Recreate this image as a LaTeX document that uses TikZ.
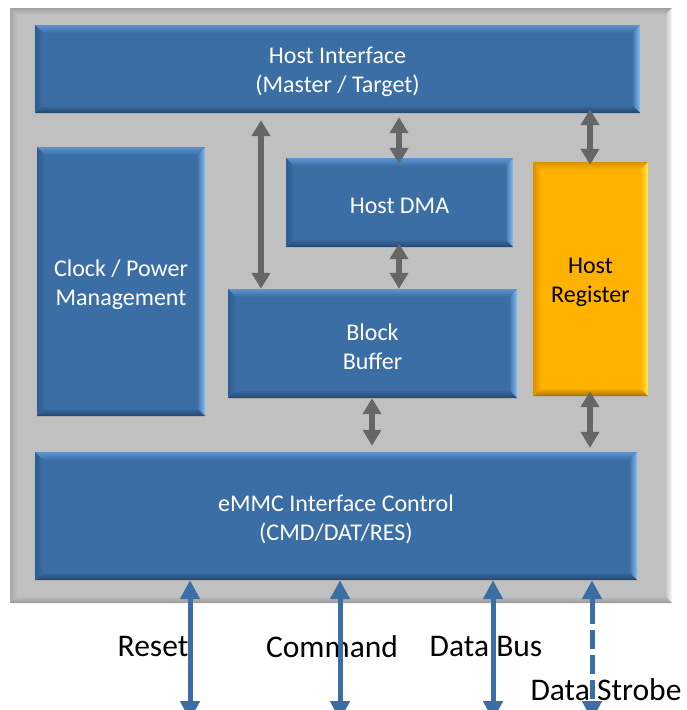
\documentclass[tikz,border=0pt]{standalone}
\usepackage{fontspec}
\setmainfont{Carlito}
\usetikzlibrary{arrows.meta}

% face colours: M = face, T/R/B/L = top/right/bottom/left bevel
\definecolor{blueM}{HTML}{3A6EA5}
\definecolor{blueT}{HTML}{5C93D0}
\definecolor{blueR}{HTML}{86BDF2}
\definecolor{blueB}{HTML}{24476F}
\definecolor{blueL}{HTML}{2E5C8E}
\definecolor{orngM}{HTML}{FFB300}
\definecolor{orngT}{HTML}{D99200}
\definecolor{orngR}{HTML}{FFE84A}
\definecolor{orngB}{HTML}{A87000}
\definecolor{orngL}{HTML}{D89000}
\definecolor{grayM}{HTML}{C0C0C0}
\definecolor{grayT}{HTML}{A2A2A2}
\definecolor{grayR}{HTML}{FAFAFA}
\definecolor{grayB}{HTML}{999999}
\definecolor{grayL}{HTML}{A6A6A6}
\definecolor{linkgray}{HTML}{666666}

\newcommand\boxfont{\fontsize{24}{29}\selectfont}
\newcommand\labfont{\fontsize{31.5}{36}\selectfont}
% tall strut on a first line: sets the text a little below centre
\newcommand\lowstrut{\rule{0pt}{23pt}}

\tikzset{
  bevelled/.style 2 args={
    fill=#1M,
    path picture={
      \path (path picture bounding box.north west) coordinate (pNW)
            (path picture bounding box.north east) coordinate (pNE)
            (path picture bounding box.south west) coordinate (pSW)
            (path picture bounding box.south east) coordinate (pSE);
      \shade[top color=#1T, bottom color=#1M]
        (pNW) -- (pNE) -- ([xshift=-#2,yshift=-#2]pNE) -- ([xshift=#2,yshift=-#2]pNW) -- cycle;
      \shade[left color=#1M, right color=#1R]
        (pNE) -- (pSE) -- ([xshift=-#2,yshift=#2]pSE) -- ([xshift=-#2,yshift=-#2]pNE) -- cycle;
      \shade[top color=#1M, bottom color=#1B]
        (pSE) -- (pSW) -- ([xshift=#2,yshift=#2]pSW) -- ([xshift=-#2,yshift=#2]pSE) -- cycle;
      \shade[left color=#1L, right color=#1M]
        (pSW) -- (pNW) -- ([xshift=#2,yshift=-#2]pNW) -- ([xshift=#2,yshift=#2]pSW) -- cycle;
    }},
  boxtext/.style={align=center, inner sep=0pt, font=\boxfont},
  blk/.style={bevelled={blue}{8pt}, text=white, boxtext},
  regblk/.style={bevelled={orng}{8pt}, text=black, boxtext},
  panelbox/.style={bevelled={gray}{7pt}, inner sep=0pt},
  garrow/.style={draw=linkgray, line width=6pt,
    {Triangle[width=18pt,length=16pt]}-{Triangle[width=18pt,length=16pt]}},
  barrow/.style={draw=blueM, line width=5pt,
    {Triangle[width=19pt,length=19pt]}-{Triangle[width=19pt,length=19pt]}},
  lab/.style={text=black, font=\labfont, inner sep=0pt},
}

\begin{document}
\begin{tikzpicture}[x=1pt, y=-1pt]
  \fill[white] (0,0) rectangle (686,710);
  \useasboundingbox (0,0) rectangle (686,710);

  % housing
  \node[panelbox, minimum width=662pt, minimum height=595pt] (panel) at (341,305.5) {};

  % functional blocks
  \node[blk, minimum width=605pt, minimum height=88pt] (hi) at (337.5,69)
    {\lowstrut Host Interface\\(Master / Target)};
  \node[blk, minimum width=168pt, minimum height=269pt] (clk) at (121,281.5)
    {\lowstrut Clock / Power\\Management};
  \node[blk, minimum width=227pt, minimum height=89pt] (dma) at (399.5,202.5)
    {\lowstrut Host DMA};
  \node[blk, minimum width=289pt, minimum height=109pt] (bb) at (372.5,343.5)
    {\lowstrut Block\\Buffer};
  \node[regblk, minimum width=115pt, minimum height=234pt] (reg) at (590.5,279)
    {\lowstrut Host\\Register};
  \node[blk, minimum width=602pt, minimum height=128pt] (emmc) at (336,516)
    {\lowstrut eMMC Interface Control\\(CMD/DAT/RES)};

  % internal links
  \coordinate (c1) at (261,0);
  \coordinate (c2) at (399,0);
  \coordinate (c3) at (590,0);
  \coordinate (c4) at (372,0);
  \draw[garrow, shorten <=7pt] (hi.south -| c1) -- (bb.north -| c1);
  \draw[garrow, shorten <=4pt, shorten >=-6pt] (hi.south -| c2) -- (dma.north -| c2);
  \draw[garrow, shorten <=-4pt] (dma.south -| c2) -- (bb.north -| c2);
  \draw[garrow, shorten <=-4pt, shorten >=-3pt] (hi.south -| c3) -- (reg.north -| c3);
  \draw[garrow, shorten >=6pt] (bb.south -| c4) -- (emmc.north -| c4);
  \draw[garrow, shorten <=-5pt, shorten >=4pt] (reg.south -| c3) -- (emmc.north -| c3);

  % external signal labels
  \node[lab] (lreset) at (153,647) {Reset};
  \node[lab] (lcmd) at (332,647) {Command};
  \node[lab] (ldata) at (486,647) {Data Bus};
  \node[lab] (lstrobe) at (606,690) {Data Strobe};

  % external signals
  \coordinate (sreset) at (190,720);
  \coordinate (scmd) at (340,720);
  \coordinate (sdata) at (493,720);
  \coordinate (sstrobe) at (592,720);
  \draw[barrow] (emmc.south -| sreset) -- (sreset);
  \draw[barrow] (emmc.south -| scmd) -- (scmd);
  \draw[barrow] (emmc.south -| sdata) -- (sdata);
  \draw[barrow, dash pattern=on 26pt off 6pt on 19pt off 6pt on 19pt off 6pt on 19pt off 6pt on 40pt]
    (emmc.south -| sstrobe) -- (sstrobe);
\end{tikzpicture}
\end{document}
